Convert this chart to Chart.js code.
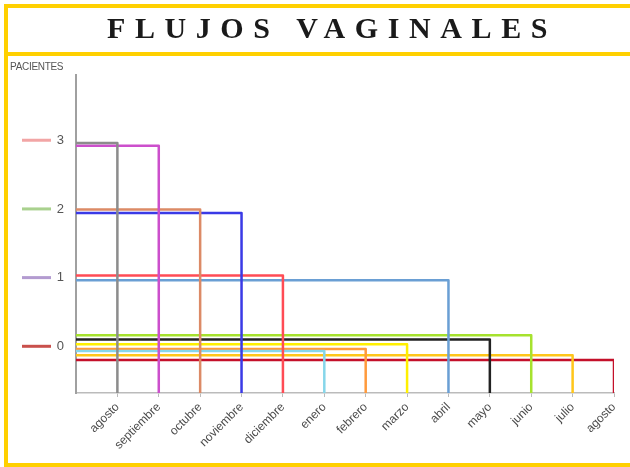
<!DOCTYPE html>
<html>
<head>
<meta charset="utf-8">
<script src="https://cdn.jsdelivr.net/npm/chart.js@4.4.0/dist/chart.umd.min.js"></script>
<style>
  body { margin: 0; background: #fff; overflow: hidden; }
  #wrap { position: relative; width: 630px; height: 467px; overflow: hidden; }
  #frame { position: absolute; left: 4px; top: 4px; width: 700px; height: 455px; border: 4px solid #ffd000; }
  #bar { position: absolute; left: 4px; top: 52px; width: 700px; height: 4px; background: #ffd000; }
  #title { position: absolute; left: 0; top: 11px; width: 664px; text-align: center;
           font-family: "Liberation Serif", serif; font-weight: bold; font-size: 30px;
           letter-spacing: 9.6px; color: #1a1a1a; }
  #ylab { position: absolute; left: 10px; top: 61px; font-family: "Liberation Sans", sans-serif;
          font-size: 10px; color: #555; letter-spacing: -0.3px; }
  canvas { position: absolute; left: 0; top: 0; }
</style>
</head>
<body>
<div id="wrap">
  <canvas id="chart" width="630" height="467"></canvas>
  <div id="frame"></div>
  <div id="bar"></div>
  <div id="title">FLUJOS VAGINALES</div>
  <div id="ylab">PACIENTES</div>
</div>
<script>
// months on the x axis
const meses = ['agosto', 'septiembre', 'octubre', 'noviembre', 'diciembre', 'enero',
  'febrero', 'marzo', 'abril', 'mayo', 'junio', 'julio', 'agosto'];
// values as they sit in the picture
const pacientes = [2.96, 2.92, 1.99, 1.94, 1.03, -0.07, -0.04, 0.03, 0.96, 0.10, 0.16, -0.13, -0.20];
const colores = ['#8c8c8c', '#cc4fcc', '#dc8a66', '#3a3ae6', '#ff4c55', '#86d6ea', '#ff9a3c',
  '#fff000', '#6a9fd4', '#222222', '#a6e22e', '#ffc61a', '#c4102a'];
const yTicks = [0, 1, 2, 3];
const yTickMarks = ['#c9504c', '#b39bd0', '#a9d18e', '#f2a5a5'];

const yMin = -0.68, yMax = 3.95;

const datasets = meses.map(function (m, i) {
    return {
        label: m,
        data: [{ x: 0, y: pacientes[i] }, { x: i + 1, y: pacientes[i] }, { x: i + 1, y: yMin }],
        borderColor: colores[i],
        borderWidth: 2.5,
        pointRadius: 0,
        tension: 0,
        borderJoinStyle: 'round'
    };
});

// little coloured dashes in front of the y tick labels
const tickDashes = {
    id: 'tickDashes',
    afterDraw(chart) {
        const ctx = chart.ctx;
        const y = chart.scales.y;
        ctx.save();
        ctx.lineWidth = 3;
        yTicks.forEach(function (v, i) {
            const py = y.getPixelForValue(v);
            ctx.strokeStyle = yTickMarks[i];
            ctx.beginPath();
            ctx.moveTo(22, py);
            ctx.lineTo(51, py);
            ctx.stroke();
        });
        ctx.restore();
    }
};

new Chart(document.getElementById('chart'), {
    type: 'line',
    data: { datasets: datasets },
    plugins: [tickDashes],
    options: {
        responsive: false,
        animation: false,
        layout: { padding: { top: 75, right: 16, left: 0, bottom: 0 } },
        plugins: { legend: { display: false }, tooltip: { enabled: false } },
        scales: {
            x: {
                type: 'linear',
                min: 0,
                max: 13,
                afterBuildTicks: function (s) { s.ticks = meses.map(function (m, i) { return { value: i + 1 }; }); },
                afterFit: function (s) { s.height = 74; },
                ticks: {
                    autoSkip: false,
                    maxRotation: 45,
                    minRotation: 45,
                    padding: 3,
                    color: '#4a4a4a',
                    font: { family: 'Liberation Sans', size: 12 },
                    callback: function (v) { return meses[v - 1]; }
                },
                grid: { drawOnChartArea: false, drawTicks: true, tickLength: 4, color: '#bbb' },
                border: { display: true, color: '#bbb', width: 1.5 }
            },
            y: {
                min: yMin,
                max: yMax,
                afterBuildTicks: function (s) { s.ticks = yTicks.map(function (v) { return { value: v }; }); },
                afterFit: function (s) { s.width = 76; },
                ticks: {
                    padding: 12,
                    color: '#555',
                    font: { family: 'Liberation Sans', size: 13 }
                },
                grid: { display: false, drawTicks: false },
                border: { display: true, color: '#a0a0a0', width: 2 }
            }
        }
    }
});
</script>
</body>
</html>
